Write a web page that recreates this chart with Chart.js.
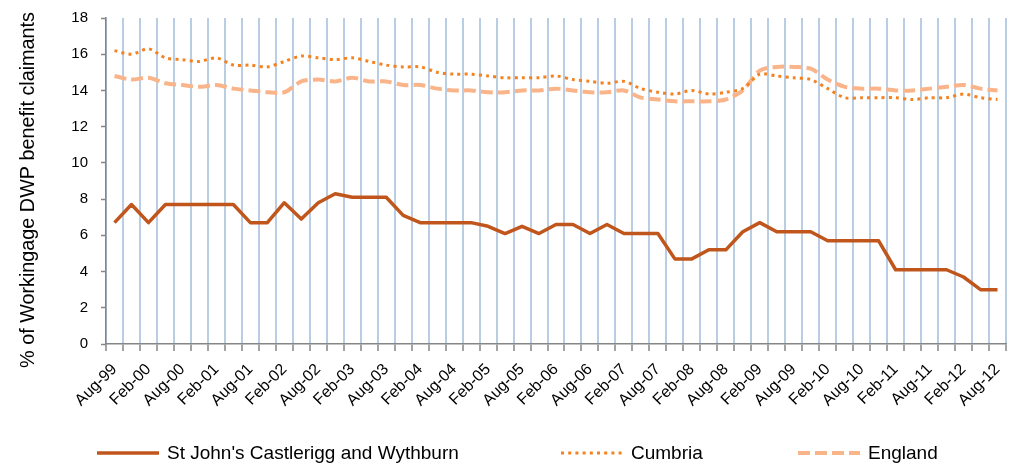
<!DOCTYPE html>
<html><head><meta charset="utf-8">
<script src="https://cdn.jsdelivr.net/npm/chart.js@4.4.0/dist/chart.umd.min.js"></script>
<style>html,body{margin:0;padding:0;background:#fff;overflow:hidden;} #wrap{width:1009px;height:464px;}</style>
</head><body><div id="wrap"><canvas id="c" width="1009" height="464"></canvas></div>
<script>
const categories = ["Aug-99","Nov-99","Feb-00","May-00","Aug-00","Nov-00","Feb-01","May-01","Aug-01","Nov-01",
  "Feb-02","May-02","Aug-02","Nov-02","Feb-03","May-03","Aug-03","Nov-03","Feb-04","May-04",
  "Aug-04","Nov-04","Feb-05","May-05","Aug-05","Nov-05","Feb-06","May-06","Aug-06","Nov-06",
  "Feb-07","May-07","Aug-07","Nov-07","Feb-08","May-08","Aug-08","Nov-08","Feb-09","May-09",
  "Aug-09","Nov-09","Feb-10","May-10","Aug-10","Nov-10","Feb-11","May-11","Aug-11","Nov-11",
  "Feb-12","May-12","Aug-12"];
const stJohns = [6.7,7.7,6.7,7.7,7.7,7.7,7.7,7.7,6.7,6.7,
  7.8,6.9,7.8,8.3,8.1,8.1,8.1,7.1,6.7,6.7,
  6.7,6.7,6.5,6.1,6.5,6.1,6.6,6.6,6.1,6.6,
  6.1,6.1,6.1,4.7,4.7,5.2,5.2,6.2,6.7,6.2,
  6.2,6.2,5.7,5.7,5.7,5.7,4.1,4.1,4.1,4.1,
  3.7,3.0,3.0];
const cumbria = [16.2,16.0,16.3,15.8,15.7,15.6,15.8,15.4,15.4,15.3,
  15.6,15.9,15.8,15.7,15.8,15.6,15.4,15.3,15.3,15.0,
  14.9,14.9,14.8,14.7,14.7,14.7,14.8,14.6,14.5,14.4,
  14.5,14.1,13.9,13.8,14.0,13.8,13.9,14.1,14.9,14.8,
  14.7,14.6,14.1,13.6,13.6,13.6,13.6,13.5,13.6,13.6,
  13.8,13.6,13.5];
const england = [14.8,14.6,14.7,14.4,14.3,14.2,14.3,14.1,14.0,13.9,
  13.9,14.5,14.6,14.5,14.7,14.5,14.5,14.3,14.3,14.1,
  14.0,14.0,13.9,13.9,14.0,14.0,14.1,14.0,13.9,13.9,
  14.0,13.6,13.5,13.4,13.4,13.4,13.5,14.0,15.1,15.3,
  15.3,15.2,14.6,14.2,14.1,14.1,14.0,14.0,14.1,14.2,
  14.3,14.1,14.0];
const seriesNames = ["St John's Castlerigg and Wythburn","Cumbria","England"];
const yTitle = "% of Workingage DWP benefit claimants";
const yMin = 0, yMax = 18, yStep = 2;

const FONT = "'Liberation Sans', Arial, sans-serif";

const legendPlugin = {
  id: 'customLegend',
  afterDraw(chart) {
    const ctx = chart.ctx;
    const starts = [97, 561, 798];
    const y = 453;
    chart.data.datasets.forEach((ds, i) => {
      const x = starts[i];
      ctx.save();
      ctx.strokeStyle = ds.borderColor;
      ctx.lineWidth = ds.borderWidth;
      ctx.setLineDash(ds.borderDash || []);
      ctx.lineCap = 'butt';
      ctx.beginPath(); ctx.moveTo(x, y); ctx.lineTo(x + 62, y); ctx.stroke();
      ctx.setLineDash([]);
      ctx.fillStyle = '#000';
      ctx.font = '19px ' + FONT;
      ctx.textBaseline = 'middle';
      ctx.textAlign = 'left';
      ctx.fillText(ds.label, x + 70, y + 1);
      ctx.restore();
    });
    // y-axis title
    ctx.save();
    ctx.translate(29, 190);
    ctx.rotate(-Math.PI / 2);
    ctx.fillStyle = '#000';
    ctx.font = '19.8px ' + FONT;
    ctx.textAlign = 'center';
    ctx.textBaseline = 'middle';
    ctx.fillText(yTitle, 0, 0);
    ctx.restore();
  }
};

new Chart(document.getElementById('c').getContext('2d'), {
  type: 'line',
  data: {
    labels: categories,
    datasets: [
      {label: seriesNames[0], data: stJohns, borderColor: '#C0561C', borderWidth: 3.5, pointRadius: 0, tension: 0, borderJoinStyle: 'round'},
      {label: seriesNames[1], data: cumbria, borderColor: '#F58220', borderWidth: 3, borderDash: [3, 4.2], pointRadius: 0, tension: 0.3},
      {label: seriesNames[2], data: england, borderColor: '#FAB48A', borderWidth: 4, borderDash: [12, 5], pointRadius: 0, tension: 0.3}
    ]
  },
  options: {
    responsive: false,
    animation: false,
    layout: {padding: {left: 0, right: 3, top: 18, bottom: 40}},
    plugins: {legend: {display: false}, tooltip: {enabled: false}},
    scales: {
      x: {
        offset: true,
        grid: {offset: true, color: '#B9CDE5', lineWidth: 2, tickColor: '#868686', tickLength: 7, tickWidth: 1.5},
        border: {color: '#868686', width: 1.5},
        ticks: {autoSkip: false, maxRotation: 45, minRotation: 45, color: '#000', font: {family: FONT, size: 16}, padding: 9,
          callback: (v, i) => (i % 2 === 0 ? categories[i] : '')},
        afterFit(s) { s.height = 80; s.paddingLeft = 0; s.paddingRight = 0; }
      },
      y: {
        min: yMin, max: yMax,
        ticks: {stepSize: yStep, color: '#000', font: {family: FONT, size: 15}, padding: 13},
        grid: {drawOnChartArea: false, tickLength: 5, color: '#868686', tickWidth: 1.5},
        border: {color: '#868686', width: 1.5},
        afterFit(s) { s.width = 106; s.paddingTop = 0; s.paddingBottom = 0; }
      }
    }
  },
  plugins: [legendPlugin]
});
</script>
</body></html>
